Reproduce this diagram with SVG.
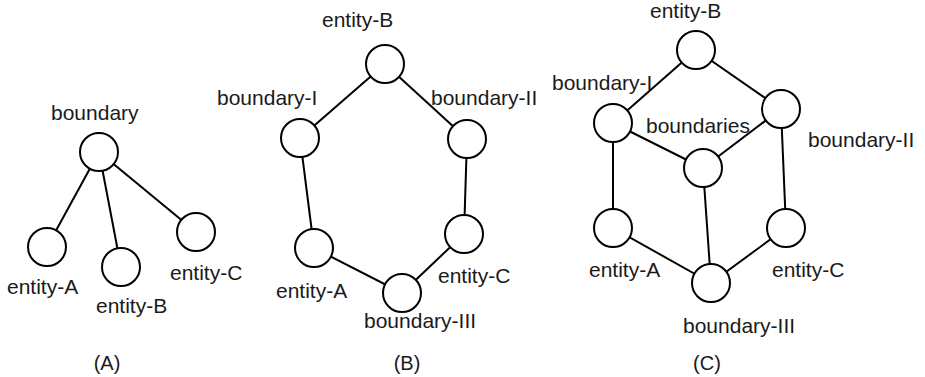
<svg xmlns="http://www.w3.org/2000/svg" width="925" height="377" viewBox="0 0 925 377">
  <style>
    .node { fill: #ffffff; stroke: #000000; stroke-width: 2; }
    .edge { stroke: #000000; stroke-width: 2; fill: none; }
    .lbl { font-family: "Liberation Sans", Arial, Helvetica, sans-serif; font-size: 21px; fill: #1a1a1a; }
    .cap { font-family: "Liberation Sans", Arial, Helvetica, sans-serif; font-size: 20px; fill: #1a1a1a; text-anchor: middle; }
  </style>

  <!-- connectors (drawn first so circles cover the ends) -->
  <g id="connectors" class="edge">
    <!-- (A) star -->
    <line x1="99" y1="152" x2="47" y2="247"/>
    <line x1="99" y1="152" x2="121" y2="267"/>
    <line x1="99" y1="152" x2="196" y2="232"/>
    <!-- (B) ring -->
    <line x1="385" y1="64" x2="300" y2="138"/>
    <line x1="385" y1="64" x2="467" y2="139"/>
    <line x1="300" y1="138" x2="314" y2="248"/>
    <line x1="467" y1="139" x2="464" y2="234"/>
    <line x1="314" y1="248" x2="402" y2="293"/>
    <line x1="464" y1="234" x2="402" y2="293"/>
    <!-- (C) cube -->
    <line x1="696" y1="50" x2="613" y2="123"/>
    <line x1="696" y1="50" x2="781" y2="109"/>
    <line x1="613" y1="123" x2="703" y2="168"/>
    <line x1="781" y1="109" x2="703" y2="168"/>
    <line x1="613" y1="123" x2="613" y2="228"/>
    <line x1="781" y1="109" x2="786" y2="228"/>
    <line x1="703" y1="168" x2="711" y2="283"/>
    <line x1="613" y1="228" x2="711" y2="283"/>
    <line x1="786" y1="228" x2="711" y2="283"/>
  </g>

  <!-- (A) -->
  <g id="a-boundary"><circle class="node" cx="99" cy="152" r="19"/><text class="lbl" x="51" y="120">boundary</text></g>
  <g id="a-entity-A"><circle class="node" cx="47" cy="247" r="19"/><text class="lbl" x="7" y="294">entity-A</text></g>
  <g id="a-entity-B"><circle class="node" cx="121" cy="267" r="19"/><text class="lbl" x="96" y="313">entity-B</text></g>
  <g id="a-entity-C"><circle class="node" cx="196" cy="232" r="19"/><text class="lbl" x="170" y="280">entity-C</text></g>

  <!-- (B) -->
  <g id="b-entity-B"><circle class="node" cx="385" cy="64" r="19"/><text class="lbl" x="322" y="27">entity-B</text></g>
  <g id="b-boundary-I"><circle class="node" cx="300" cy="138" r="19"/><text class="lbl" x="217" y="105">boundary-I</text></g>
  <g id="b-boundary-II"><circle class="node" cx="467" cy="139" r="19"/><text class="lbl" x="431" y="105">boundary-II</text></g>
  <g id="b-entity-A"><circle class="node" cx="314" cy="248" r="19"/><text class="lbl" x="276" y="298">entity-A</text></g>
  <g id="b-entity-C"><circle class="node" cx="464" cy="234" r="19"/><text class="lbl" x="438" y="283">entity-C</text></g>
  <g id="b-boundary-III"><circle class="node" cx="402" cy="293" r="19"/><text class="lbl" x="364" y="328">boundary-III</text></g>

  <!-- (C) -->
  <g id="c-entity-B"><circle class="node" cx="696" cy="50" r="19"/><text class="lbl" x="650" y="18">entity-B</text></g>
  <g id="c-boundary-I"><circle class="node" cx="613" cy="123" r="19"/><text class="lbl" x="552" y="90">boundary-I</text></g>
  <g id="c-boundary-II"><circle class="node" cx="781" cy="109" r="19"/><text class="lbl" x="808" y="147">boundary-II</text></g>
  <g id="c-boundaries"><circle class="node" cx="703" cy="168" r="19"/><text class="lbl" x="646" y="133">boundaries</text></g>
  <g id="c-entity-A"><circle class="node" cx="613" cy="228" r="19"/><text class="lbl" x="589" y="277">entity-A</text></g>
  <g id="c-entity-C"><circle class="node" cx="786" cy="228" r="19"/><text class="lbl" x="772" y="277">entity-C</text></g>
  <g id="c-boundary-III"><circle class="node" cx="711" cy="283" r="19"/><text class="lbl" x="683" y="333">boundary-III</text></g>

  <!-- panel captions -->
  <g id="captions">
    <text class="cap" x="107" y="370">(A)</text>
    <text class="cap" x="407" y="370">(B)</text>
    <text class="cap" x="707" y="370">(C)</text>
  </g>
</svg>
